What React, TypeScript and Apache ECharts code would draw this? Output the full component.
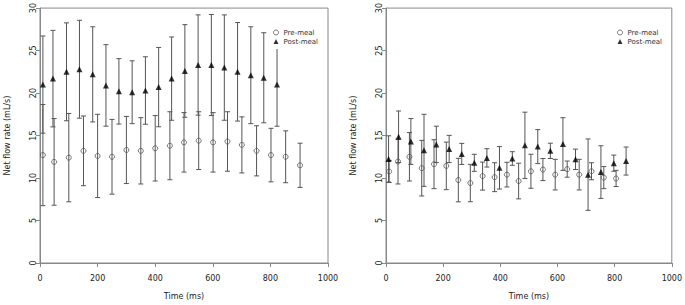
import React, { useEffect, useRef } from "react";
import * as echarts from "echarts";

// Left panel
const leftPreTime = [10, 49, 100, 151, 200, 250, 300, 350, 400, 451, 500, 551, 601, 651, 701, 752, 802, 853, 903];
const leftPreMean = [12.7, 11.9, 12.4, 13.2, 12.6, 12.5, 13.3, 13.2, 13.5, 13.8, 14.2, 14.4, 14.2, 14.3, 13.9, 13.2, 12.7, 12.5, 11.5];
const leftPreSd = [5.95, 5.1, 5.2, 4.1, 4.9, 4.4, 3.95, 3.9, 3.85, 4.0, 3.5, 3.4, 3.5, 3.5, 3.3, 2.95, 3.15, 3.05, 2.6];

const leftPostTime = [10, 45, 92, 137, 183, 229, 274, 320, 366, 412, 457, 503, 549, 595, 640, 686, 732, 777, 823];
const leftPostMean = [21.0, 21.7, 22.5, 22.8, 22.2, 20.9, 20.2, 20.1, 20.3, 20.7, 21.7, 22.6, 23.3, 23.3, 23.0, 22.5, 22.1, 21.8, 21.0];
const leftPostSd = [5.72, 5.68, 5.76, 5.76, 5.6, 4.8, 3.85, 3.7, 3.97, 4.67, 4.9, 5.45, 5.9, 5.95, 6.2, 5.8, 5.7, 5.3, 4.9];

// Right panel
const rightPreTime = [11, 42, 82, 125, 168, 211, 253, 295, 338, 380, 423, 464, 507, 549, 592, 634, 676, 719, 762, 805];
const rightPreMean = [10.77, 11.94, 12.5, 11.16, 11.63, 11.43, 9.76, 9.41, 10.23, 10.1, 10.4, 9.65, 10.8, 11.0, 10.4, 11.05, 10.4, 10.8, 10.05, 9.95];
const rightPreSd = [1.3, 2.64, 2.85, 3.27, 2.88, 2.8, 2.56, 2.2, 1.65, 1.7, 1.45, 2.1, 2.0, 1.3, 1.8, 0.95, 1.8, 1.0, 1.3, 0.95];

const rightPostTime = [9, 44, 87, 133, 176, 221, 265, 309, 353, 397, 442, 486, 531, 575, 619, 663, 707, 752, 797, 840];
const rightPostMean = [12.25, 14.86, 14.3, 13.26, 13.96, 13.42, 12.84, 11.79, 12.37, 11.2, 12.3, 13.85, 13.7, 13.2, 14.0, 12.2, 10.4, 10.7, 11.75, 12.0];
const rightPostSd = [2.72, 3.03, 2.7, 4.24, 2.14, 1.6, 1.24, 1.0, 1.08, 2.5, 0.8, 3.9, 2.0, 0.9, 3.1, 1.2, 4.2, 3.1, 0.95, 1.65];

const xTicks = [0, 200, 400, 600, 800, 1000];
const yTicks = [0, 5, 10, 15, 20, 25, 30];

const FONT = "DejaVu Sans";
const BAR_COLOR = "#555";
const PRE_COLOR = "#555";
const POST_COLOR = "#000";

function errData(t: number[], m: number[], s: number[]) {
  return t.map((x, i) => [x, m[i] - s[i], m[i] + s[i]]);
}
function ptData(t: number[], m: number[]) {
  return t.map((x, i) => [x, m[i]]);
}

function errSeries(name: string, idx: number, data: number[][]) {
  return {
    type: "custom",
    name,
    xAxisIndex: idx,
    yAxisIndex: idx,
    z: 2,
    encode: { x: 0, y: [1, 2] },
    data,
    renderItem: (_params: any, api: any) => {
      const x = api.value(0);
      const lo = api.coord([x, api.value(1)]);
      const hi = api.coord([x, api.value(2)]);
      const w = 2.5;
      const style = { stroke: BAR_COLOR, lineWidth: 1, fill: "none" };
      return {
        type: "group",
        children: [
          { type: "line", shape: { x1: lo[0], y1: lo[1], x2: hi[0], y2: hi[1] }, style },
          { type: "line", shape: { x1: lo[0] - w, y1: lo[1], x2: lo[0] + w, y2: lo[1] }, style },
          { type: "line", shape: { x1: hi[0] - w, y1: hi[1], x2: hi[0] + w, y2: hi[1] }, style },
        ],
      };
    },
  };
}

function preSeries(idx: number, data: number[][]) {
  return {
    type: "scatter",
    name: "Pre-meal",
    xAxisIndex: idx,
    yAxisIndex: idx,
    z: 3,
    symbol: "circle",
    symbolSize: 5,
    itemStyle: { color: "rgba(0,0,0,0)", borderColor: PRE_COLOR, borderWidth: 1 },
    data,
  };
}
function postSeries(idx: number, data: number[][]) {
  return {
    type: "scatter",
    name: "Post-meal",
    xAxisIndex: idx,
    yAxisIndex: idx,
    z: 3,
    symbol: "triangle",
    symbolSize: 6,
    itemStyle: { color: POST_COLOR },
    data,
  };
}

function xAxis(idx: number) {
  return {
    type: "value",
    gridIndex: idx,
    min: 0,
    max: 1000,
    interval: 200,
    name: "Time (ms)",
    nameLocation: "middle",
    nameGap: 29,
    nameTextStyle: { fontFamily: FONT, fontSize: 8, color: "#222" },
    axisLine: { show: true, onZero: false, lineStyle: { color: "#888", width: 1 } },
    axisTick: { show: true, inside: false, length: 4, lineStyle: { color: "#888" } },
    axisLabel: {
      fontFamily: FONT,
      fontSize: 8,
      color: "#222",
      margin: 11,
      formatter: (v: number) => (xTicks.includes(v) ? String(v) : ""),
    },
    splitLine: { show: false },
  };
}
function yAxis(idx: number) {
  return {
    type: "value",
    gridIndex: idx,
    min: 0,
    max: 30,
    interval: 5,
    name: "Net flow rate (mL/s)",
    nameLocation: "middle",
    nameRotate: 90,
    nameGap: 29,
    nameTextStyle: { fontFamily: FONT, fontSize: 8, color: "#222" },
    axisLine: { show: true, onZero: false, lineStyle: { color: "#888", width: 1 } },
    axisTick: { show: true, inside: false, length: 4, lineStyle: { color: "#888" } },
    axisLabel: {
      fontFamily: FONT,
      fontSize: 8,
      color: "#222",
      rotate: 90,
      margin: 3,
      formatter: (v: number) => (yTicks.includes(v) ? String(v) : ""),
    },
    splitLine: { show: false },
  };
}

function legend(left: number) {
  return {
    orient: "vertical",
    left,
    top: 24,
    padding: [5, 5, 4, 5],
    itemGap: 2,
    itemWidth: 5,
    itemHeight: 5,
    itemTextGap: 4,
    backgroundColor: "#fff",
    textStyle: { fontFamily: FONT, fontSize: 7, color: "#333" },
    selectedMode: false,
    data: [
      {
        name: "Pre-meal",
        icon: "circle",
        itemStyle: { color: "rgba(0,0,0,0)", borderColor: PRE_COLOR, borderWidth: 1 },
      },
      { name: "Post-meal", icon: "triangle", itemStyle: { color: POST_COLOR } },
    ],
  };
}

export default function App() {
  const ref = useRef<HTMLDivElement>(null);
  useEffect(() => {
    if (!ref.current) return;
    const chart = echarts.init(ref.current, undefined, { renderer: "svg" });
    chart.setOption({
      animation: false,
      backgroundColor: "#fff",
      grid: [
        { left: 40, top: 7, width: 288, height: 257, show: true, borderColor: "#888", borderWidth: 1, backgroundColor: "transparent" },
        { left: 386, top: 7, width: 287, height: 257, show: true, borderColor: "#888", borderWidth: 1, backgroundColor: "transparent" },
      ],
      xAxis: [xAxis(0), xAxis(1)],
      yAxis: [yAxis(0), yAxis(1)],
      legend: [legend(268), legend(612)],
      series: [
        errSeries("leftPreErr", 0, errData(leftPreTime, leftPreMean, leftPreSd)),
        errSeries("leftPostErr", 0, errData(leftPostTime, leftPostMean, leftPostSd)),
        preSeries(0, ptData(leftPreTime, leftPreMean)),
        postSeries(0, ptData(leftPostTime, leftPostMean)),
        errSeries("rightPreErr", 1, errData(rightPreTime, rightPreMean, rightPreSd)),
        errSeries("rightPostErr", 1, errData(rightPostTime, rightPostMean, rightPostSd)),
        preSeries(1, ptData(rightPreTime, rightPreMean)),
        postSeries(1, ptData(rightPostTime, rightPostMean)),
      ],
    });
    return () => chart.dispose();
  }, []);
  return (
    <div
      ref={ref}
      style={{ position: "fixed", left: 0, top: 0, width: 685, height: 305, background: "#fff" }}
    />
  );
}
